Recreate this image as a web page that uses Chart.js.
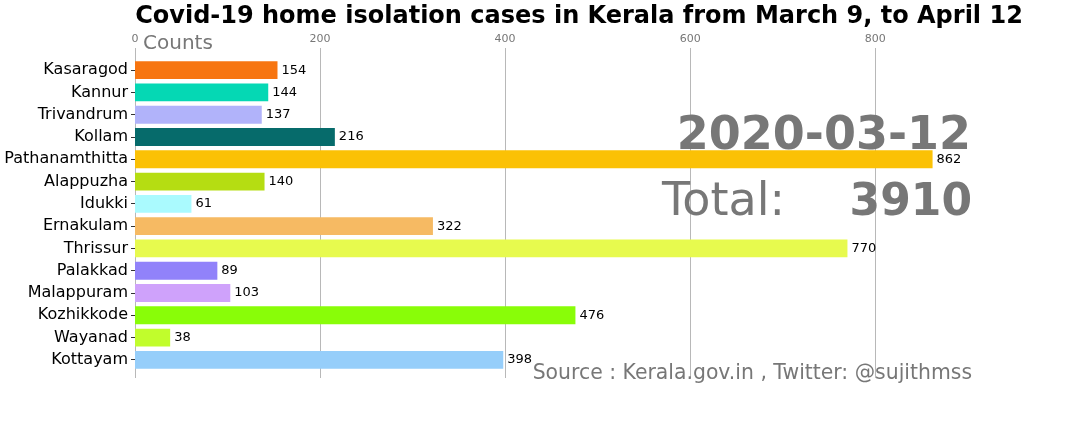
<!DOCTYPE html>
<html>
<head>
<meta charset="utf-8">
<script src="https://cdn.jsdelivr.net/npm/chart.js@4"></script>
<style>
  html, body { margin: 0; padding: 0; background: #fff; }
  #wrap { width: 1080px; height: 432px; }
</style>
</head>
<body>
<div id="wrap"><canvas id="chart"></canvas></div>
<script>
'use strict';

const districts = ['Kasaragod', 'Kannur', 'Trivandrum', 'Kollam', 'Pathanamthitta', 'Alappuzha', 'Idukki',
    'Ernakulam', 'Thrissur', 'Palakkad', 'Malappuram', 'Kozhikkode', 'Wayanad', 'Kottayam'];
const counts = [154, 144, 137, 216, 862, 140, 61, 322, 770, 89, 103, 476, 38, 398];
const barColors = ['#f77510', '#05d8b4', '#b1b3fa', '#066b6b', '#fbc105', '#b5dd12', '#aafafe',
    '#f6ba63', '#e7fa4e', '#9182fa', '#cfa2fb', '#89fd08', '#c1fd2c', '#96cefa'];
const xTicks = [0, 200, 400, 600, 800];

const titleText = 'Covid-19 home isolation cases in Kerala from March 9, to April 12';
const dateText = '2020-03-12';
const totalText = '3910';
const sourceText = 'Source : Kerala.gov.in , Twitter: @sujithmss';

const FONT = '"DejaVu Sans", Verdana, sans-serif';
const GRAY = '#777777';

// vertical grid lines, a bit taller than the bar area like matplotlib's margins
const gridPlugin = {
    id: 'grid',
    beforeDatasetsDraw(chart) {
        const ctx = chart.ctx;
        const x = chart.scales.x;
        const area = chart.chartArea;
        ctx.save();
        ctx.strokeStyle = '#b8b8b8';
        ctx.lineWidth = 1;
        xTicks.forEach(v => {
            const px = Math.round(x.getPixelForValue(v)) + 0.5;
            ctx.beginPath();
            ctx.moveTo(px, area.top - 11);
            ctx.lineTo(px, area.bottom + 7);
            ctx.stroke();
        });
        ctx.restore();
    }
};

const labelPlugin = {
    id: 'labels',
    afterDatasetsDraw(chart) {
        const ctx = chart.ctx;
        const meta = chart.getDatasetMeta(0);
        ctx.save();
        ctx.font = '13px ' + FONT;
        ctx.fillStyle = '#000';
        ctx.textAlign = 'left';
        ctx.textBaseline = 'middle';
        meta.data.forEach((bar, i) => {
            ctx.fillText(String(counts[i]), bar.x + 4, bar.y);
        });
        ctx.restore();
    },
    afterDraw(chart) {
        const ctx = chart.ctx;
        ctx.save();
        ctx.textBaseline = 'alphabetic';

        ctx.fillStyle = '#000';
        ctx.font = 'bold 24px ' + FONT;
        ctx.textAlign = 'center';
        ctx.fillText(titleText, 579, 23);

        ctx.fillStyle = GRAY;
        ctx.font = '20px ' + FONT;
        ctx.textAlign = 'left';
        ctx.fillText('Counts', 143, 49);

        ctx.font = 'bold 46px ' + FONT;
        ctx.textAlign = 'right';
        ctx.fillText(dateText, 971, 149);

        ctx.font = '46px ' + FONT;
        ctx.textAlign = 'left';
        ctx.fillText('Total:', 662, 215);

        ctx.font = 'bold 44px ' + FONT;
        ctx.textAlign = 'right';
        ctx.fillText(totalText, 972, 215);

        ctx.font = '20.4px ' + FONT;
        ctx.textAlign = 'right';
        ctx.fillText(sourceText, 972, 379);
        ctx.restore();
    }
};

const data = {
    labels: districts,
    datasets: [{
        data: counts,
        backgroundColor: barColors,
        borderWidth: 0,
        barPercentage: 0.8,
        categoryPercentage: 1
    }]
};

const config = {
    type: 'bar',
    data: data,
    options: {
        indexAxis: 'y',
        responsive: true,
        maintainAspectRatio: false,
        animation: false,
        layout: { padding: { top: 0, left: 0, right: 66, bottom: 61 } },
        plugins: {
            legend: { display: false },
            tooltip: { enabled: false }
        },
        scales: {
            x: {
                position: 'top',
                min: 0,
                max: 950,
                afterFit(scale) { scale.height = 59; },
                afterBuildTicks(scale) { scale.ticks = xTicks.map(v => ({ value: v })); },
                grid: { display: false, drawTicks: false },
                border: { display: false },
                ticks: {
                    padding: 13,
                    color: GRAY,
                    font: { family: FONT, size: 11 }
                }
            },
            y: {
                afterFit(scale) { scale.width = 135; },
                grid: {
                    display: true,
                    drawOnChartArea: false,
                    drawTicks: true,
                    tickLength: 4,
                    offset: false,
                    color: '#333'
                },
                border: { display: false },
                ticks: {
                    padding: 3,
                    color: '#000',
                    font: { family: FONT, size: 16 }
                }
            }
        }
    },
    plugins: [gridPlugin, labelPlugin]
};

const myChart = new Chart(document.querySelector('#chart'), config);
</script>
</body>
</html>
